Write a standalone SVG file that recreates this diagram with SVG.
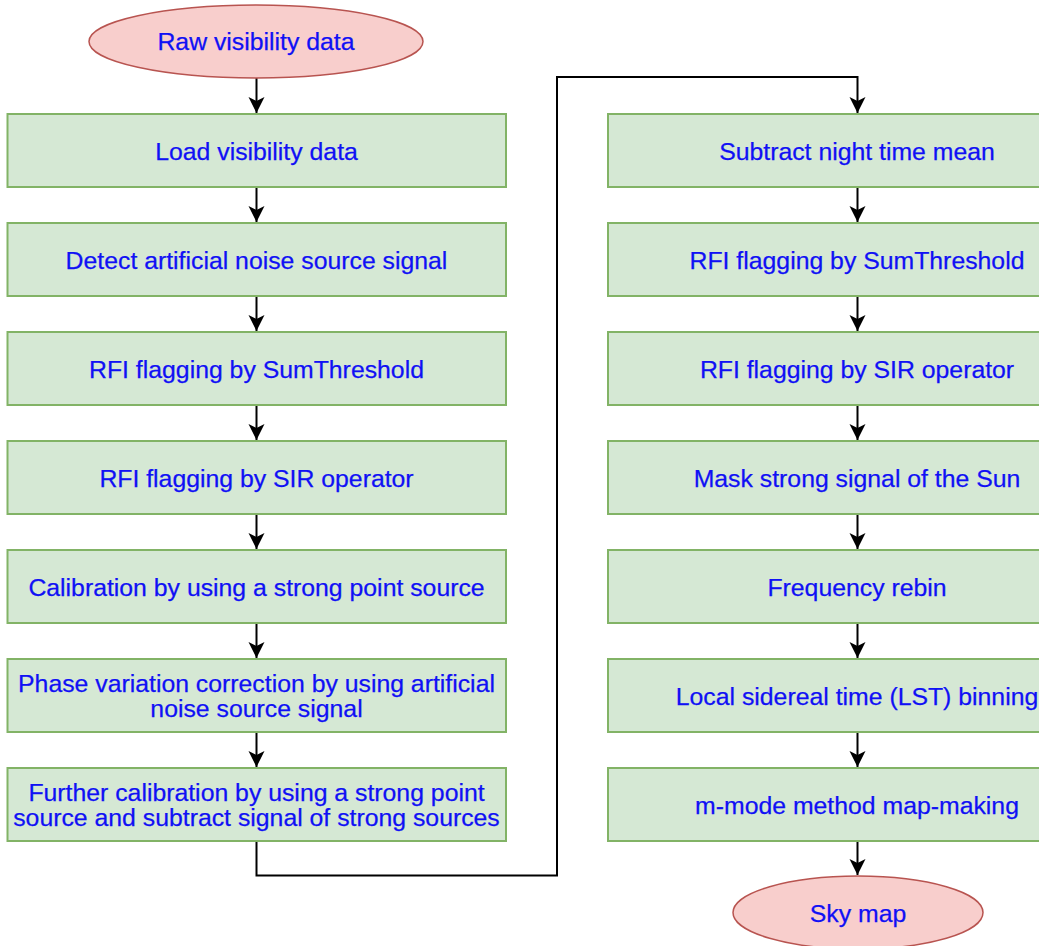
<svg xmlns="http://www.w3.org/2000/svg" width="1039" height="946" viewBox="0 0 1039 946">
<style>
.box{fill:#d5e8d4;stroke:#82b366;stroke-width:2}
.term{fill:#f8cecc;stroke:#b85450;stroke-width:1.5}
.t{font-family:"Liberation Sans",Arial,sans-serif;font-size:24.8px;fill:#1010f5;stroke:#1010f5;stroke-width:0.25;text-anchor:middle}
.c{fill:none;stroke:#000;stroke-width:2}
</style>
<defs>
<marker id="arr" markerUnits="userSpaceOnUse" markerWidth="18" markerHeight="18" refX="16" refY="8" orient="auto">
<path d="M0,0 L16,8 L0,16 L4,8 Z" fill="#000"/>
</marker>
</defs>
<rect width="1039" height="946" fill="#fff"/>
<g id="connectors">
<path class="c" d="M256.5,78 V113" marker-end="url(#arr)"/>
<path class="c" d="M256.5,187 V222" marker-end="url(#arr)"/>
<path class="c" d="M256.5,296 V331" marker-end="url(#arr)"/>
<path class="c" d="M256.5,405 V440" marker-end="url(#arr)"/>
<path class="c" d="M256.5,514 V549" marker-end="url(#arr)"/>
<path class="c" d="M256.5,623 V658" marker-end="url(#arr)"/>
<path class="c" d="M256.5,732 V767" marker-end="url(#arr)"/>
<path class="c" d="M256.5,841 V875.5 H557 V77 H857.5 V113" marker-end="url(#arr)"/>
<path class="c" d="M857.5,187 V222" marker-end="url(#arr)"/>
<path class="c" d="M857.5,296 V331" marker-end="url(#arr)"/>
<path class="c" d="M857.5,405 V440" marker-end="url(#arr)"/>
<path class="c" d="M857.5,514 V549" marker-end="url(#arr)"/>
<path class="c" d="M857.5,623 V658" marker-end="url(#arr)"/>
<path class="c" d="M857.5,732 V767" marker-end="url(#arr)"/>
<path class="c" d="M857.5,841 V875" marker-end="url(#arr)"/>
</g>
<g id="raw"><ellipse class="term" cx="256" cy="41.5" rx="167" ry="36.5"/><text class="t" x="256" y="50">Raw visibility data</text></g>
<g id="l1"><rect class="box" x="7.5" y="114" width="498.5" height="73"/><text class="t" x="256.5" y="159.5">Load visibility data</text></g>
<g id="l2"><rect class="box" x="7.5" y="223" width="498.5" height="73"/><text class="t" x="256.5" y="268.5">Detect artificial noise source signal</text></g>
<g id="l3"><rect class="box" x="7.5" y="332" width="498.5" height="73"/><text class="t" x="256.5" y="377.5">RFI flagging by SumThreshold</text></g>
<g id="l4"><rect class="box" x="7.5" y="441" width="498.5" height="73"/><text class="t" x="256.5" y="486.5">RFI flagging by SIR operator</text></g>
<g id="l5"><rect class="box" x="7.5" y="550" width="498.5" height="73"/><text class="t" x="256.5" y="595.5">Calibration by using a strong point source</text></g>
<g id="l6"><rect class="box" x="7.5" y="659" width="498.5" height="73"/><text class="t" x="256.5" y="691.5">Phase variation correction by using artificial</text><text class="t" x="256.5" y="716.5">noise source signal</text></g>
<g id="l7"><rect class="box" x="7.5" y="768" width="498.5" height="73"/><text class="t" x="256.5" y="800.5">Further calibration by using a strong point</text><text class="t" x="256.5" y="825.5">source and subtract signal of strong sources</text></g>
<g id="r1"><rect class="box" x="608" y="114" width="500" height="73"/><text class="t" x="857" y="159.5">Subtract night time mean</text></g>
<g id="r2"><rect class="box" x="608" y="223" width="500" height="73"/><text class="t" x="857" y="268.5">RFI flagging by SumThreshold</text></g>
<g id="r3"><rect class="box" x="608" y="332" width="500" height="73"/><text class="t" x="857" y="377.5">RFI flagging by SIR operator</text></g>
<g id="r4"><rect class="box" x="608" y="441" width="500" height="73"/><text class="t" x="857" y="486.5">Mask strong signal of the Sun</text></g>
<g id="r5"><rect class="box" x="608" y="550" width="500" height="73"/><text class="t" x="857" y="595.5">Frequency rebin</text></g>
<g id="r6"><rect class="box" x="608" y="659" width="500" height="73"/><text class="t" x="857" y="704.5">Local sidereal time (LST) binning</text></g>
<g id="r7"><rect class="box" x="608" y="768" width="500" height="73"/><text class="t" x="857" y="813.5">m-mode method map-making</text></g>
<g id="sky"><ellipse class="term" cx="858" cy="912.5" rx="125" ry="36.5"/><text class="t" x="858" y="921.5">Sky map</text></g>
</svg>
